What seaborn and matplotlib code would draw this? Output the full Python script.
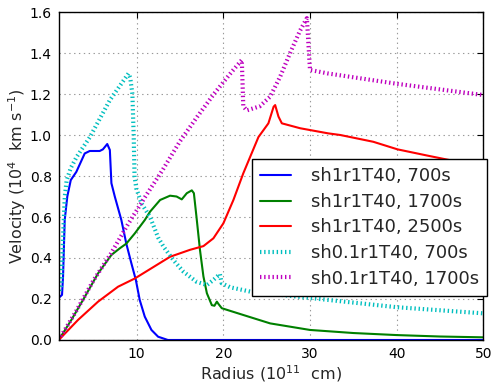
import matplotlib
matplotlib.use("Agg")
import matplotlib.pyplot as plt
import seaborn as sns

# ---- data ----
blue_x = [1.12, 1.38, 1.5, 1.69, 1.99, 2.39, 3.03, 4.0, 4.58, 5.73, 6.1, 6.6, 6.9, 7.08, 7.47,
          8.23, 8.8, 9.38, 9.9, 10.35, 10.93, 11.7, 12.47, 13.6, 50]
blue_y = [0.21, 0.22, 0.31, 0.585, 0.70, 0.78, 0.82, 0.91, 0.922, 0.922, 0.93, 0.956, 0.927, 0.765, 0.70,
          0.585, 0.47, 0.375, 0.293, 0.195, 0.114, 0.049, 0.016, 0.0, 0.0]

green_x = [1.0, 2.46, 4.0, 5.54, 7.08, 8.04, 8.8, 9.78, 10.93, 11.54, 12.7, 13.85, 14.6, 15.2, 15.78,
           16.36, 16.6, 16.9, 17.3, 17.7, 18.1, 18.67, 18.97, 19.25, 19.43, 19.82, 22.3, 25.4, 30, 35,
           40, 45, 50]
green_y = [0.0, 0.098, 0.21, 0.325, 0.415, 0.447, 0.47, 0.52, 0.585, 0.626, 0.683, 0.704, 0.70, 0.686, 0.716,
           0.73, 0.716, 0.60, 0.44, 0.31, 0.228, 0.17, 0.167, 0.187, 0.176, 0.155, 0.122, 0.081, 0.049, 0.034,
           0.024, 0.017, 0.013]

red_x = [1.0, 3.23, 5.54, 7.85, 9.78, 11.7, 13.85, 16.16, 17.7, 18.85, 20.0, 21.16, 22.3, 23.1, 24.05,
         25.2, 25.8, 25.98, 26.36, 26.75, 28.86, 32.1, 33.5, 37.3, 40.1, 43.5, 47, 50]
red_y = [0.0, 0.098, 0.187, 0.26, 0.30, 0.35, 0.406, 0.44, 0.458, 0.496, 0.569, 0.683, 0.813, 0.894, 0.99,
         1.057, 1.138, 1.146, 1.09, 1.057, 1.033, 1.008, 1.0, 0.967, 0.93, 0.90, 0.87, 0.85]

cyan_x = [1.1, 1.3, 1.5, 1.7, 1.92, 2.4, 3.08, 4.6, 6.9, 9.05, 9.25, 9.5, 9.65, 9.75, 9.95, 10.54,
          11.54, 12.47, 13.1, 14.23, 15.4, 16.9, 18.1, 18.85, 19.6, 19.8, 20.8, 23.1, 30, 40, 50]
cyan_y = [0.24, 0.27, 0.5, 0.7, 0.78, 0.84, 0.894, 0.99, 1.17, 1.30, 1.28, 1.2, 1.0, 0.8, 0.74, 0.667,
          0.60, 0.50, 0.455, 0.39, 0.333, 0.284, 0.268, 0.293, 0.322, 0.277, 0.257, 0.236, 0.205, 0.16, 0.13]

magenta_x = [1.0, 3, 5, 7, 9, 11, 13, 15, 17, 19, 21, 22.13, 22.3, 22.7, 24.2, 25.4, 26.55, 27.7,
             28.86, 29.64, 30.0, 30.3, 32.1, 40, 50]
magenta_y = [0.0, 0.14, 0.29, 0.42, 0.565, 0.70, 0.83, 0.97, 1.09, 1.205, 1.31, 1.366, 1.14, 1.12, 1.14,
             1.187, 1.284, 1.40, 1.51, 1.57, 1.317, 1.315, 1.30, 1.25, 1.195]

labels = ["sh1r1T40, 700s", "sh1r1T40, 1700s", "sh1r1T40, 2500s",
          "sh0.1r1T40, 700s", "sh0.1r1T40, 1700s"]
x_ticks = [10, 20, 30, 40, 50]
y_ticks = [0.0, 0.2, 0.4, 0.6, 0.8, 1.0, 1.2, 1.4, 1.6]

# ---- style ----
sns.set_style("white")
plt.rcParams.update({
    "font.family": ["DejaVu Sans"],
    "lines.scale_dashes": False,
    "axes.edgecolor": "black",
    "axes.linewidth": 1.0,
    "xtick.direction": "in",
    "ytick.direction": "in",
    "xtick.top": True,
    "ytick.right": True,
    "xtick.major.size": 4,
    "ytick.major.size": 4,
    "xtick.color": "black",
    "ytick.color": "black",
    "mathtext.default": "regular",
})

fig = plt.figure(figsize=(4.91, 3.85), dpi=100)
ax = fig.add_axes([0.1196, 0.1169, 0.8647, 0.8519])

series = [
    (blue_x, blue_y, "b", "-", 1.5),
    (green_x, green_y, "g", "-", 1.5),
    (red_x, red_y, "r", "-", 1.5),
    (cyan_x, cyan_y, "c", (0, (1, 2)), 3),
    (magenta_x, magenta_y, "m", (0, (1, 2)), 3),
]
for (xs, ys, col, ls, lw), lab in zip(series, labels):
    sns.lineplot(x=xs, y=ys, ax=ax, color=col, linestyle=ls, linewidth=lw,
                 sort=False, estimator=None, label=lab, dash_capstyle="butt")

ax.set_xlim(1, 50)
ax.set_ylim(0, 1.6)
ax.set_xticks(x_ticks)
ax.set_yticks(y_ticks)
ax.set_yticklabels([f"{v:.1f}" for v in y_ticks])
ax.tick_params(labelsize=10, pad=5)
ax.grid(True, color="#999999", linestyle=(0, (1, 2.5)), linewidth=0.8)
for s in ax.spines.values():
    s.set_visible(True)
    s.set_color("black")

ax.set_xlabel(r"Radius (10$^{11}$  cm)", fontsize=11.5, labelpad=1.5)
ax.set_ylabel(r"Velocity (10$^{4}$  km s$^{-1}$)", fontsize=11.5, labelpad=1)

leg = ax.legend(loc="lower right", bbox_to_anchor=(487.3 / 491, (385 - 295.7) / 385),
                bbox_transform=fig.transFigure, borderaxespad=0, fontsize=13,
                frameon=True, fancybox=False, edgecolor="black", framealpha=1,
                handlelength=1.7, handletextpad=1.1, borderpad=0.45, labelspacing=0.42)
leg.get_frame().set_linewidth(1.0)

fig.savefig("out.png", dpi=100)
